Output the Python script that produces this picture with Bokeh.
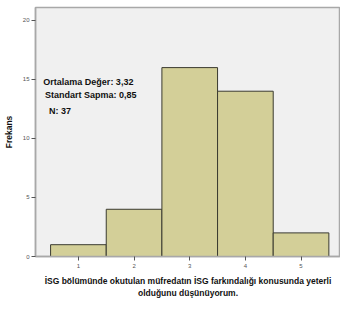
from bokeh.plotting import figure
from bokeh.models import Range1d, FixedTicker, Label
from bokeh.embed import file_html
from bokeh.resources import INLINE

categories = [1, 2, 3, 4, 5]
counts = [1, 4, 16, 14, 2]
y_ticks = [0, 5, 10, 15, 20]
stats_lines = ["Ortalama Değer: 3,32", "Standart Sapma: 0,85", "N: 37"]
x_title = "İSG bölümünde okutulan müfredatın İSG farkındalığı konusunda yeterli\nolduğunu düşünüyorum."
y_title = "Frekans"

FONT = "Liberation Sans"

p = figure(frame_width=305, frame_height=249, output_backend="svg",
           toolbar_location=None, min_border_left=29, min_border_right=0,
           min_border_top=7, min_border_bottom=37,
           x_range=Range1d(0.229, 5.709), y_range=Range1d(0, 21.09))

p.background_fill_color = "#f0f0f0"
p.border_fill_color = "white"
p.outline_line_color = "#a8a8a8"
p.outline_line_width = 1.5
p.grid.visible = False

p.vbar(x=categories, top=counts, width=1.0, bottom=0,
       fill_color="#d3cf98", line_color="#3a3a30", line_width=1)

for ax in (p.xaxis[0], p.yaxis[0]):
    ax.axis_line_color = "#a8a8a8"
    ax.axis_line_width = 1.5
    ax.major_tick_line_color = "#555555"
    ax.major_tick_out = 4
    ax.major_tick_in = 0
    ax.minor_tick_line_color = None
    ax.major_label_text_font = FONT
    ax.major_label_text_font_size = "6px"
    ax.major_label_text_color = "#555555"
    ax.axis_label_text_font = FONT
    ax.axis_label_text_font_style = "bold"
    ax.axis_label_text_color = "#111111"

p.xaxis.ticker = FixedTicker(ticks=categories)
p.yaxis.ticker = FixedTicker(ticks=y_ticks)
p.xaxis.axis_label = x_title
p.xaxis.axis_label_text_font_size = "8.5px"
p.xaxis.axis_label_standoff = 5
p.xaxis.major_label_standoff = 3
p.yaxis.axis_label = y_title
p.yaxis.axis_label_text_font_size = "8.5px"
p.yaxis.axis_label_standoff = 6
p.yaxis.major_label_standoff = 2

label_x = [0.37, 0.40, 0.47]
label_y = [14.77, 13.64, 12.36]
for t, lx, ly in zip(stats_lines, label_x, label_y):
    p.add_layout(Label(x=lx, y=ly, text=t, text_font=FONT, text_font_style="bold",
                       text_font_size="9px", text_color="#111111",
                       text_baseline="middle", text_align="left"))

open("out.html", "w").write(file_html(p, INLINE))
